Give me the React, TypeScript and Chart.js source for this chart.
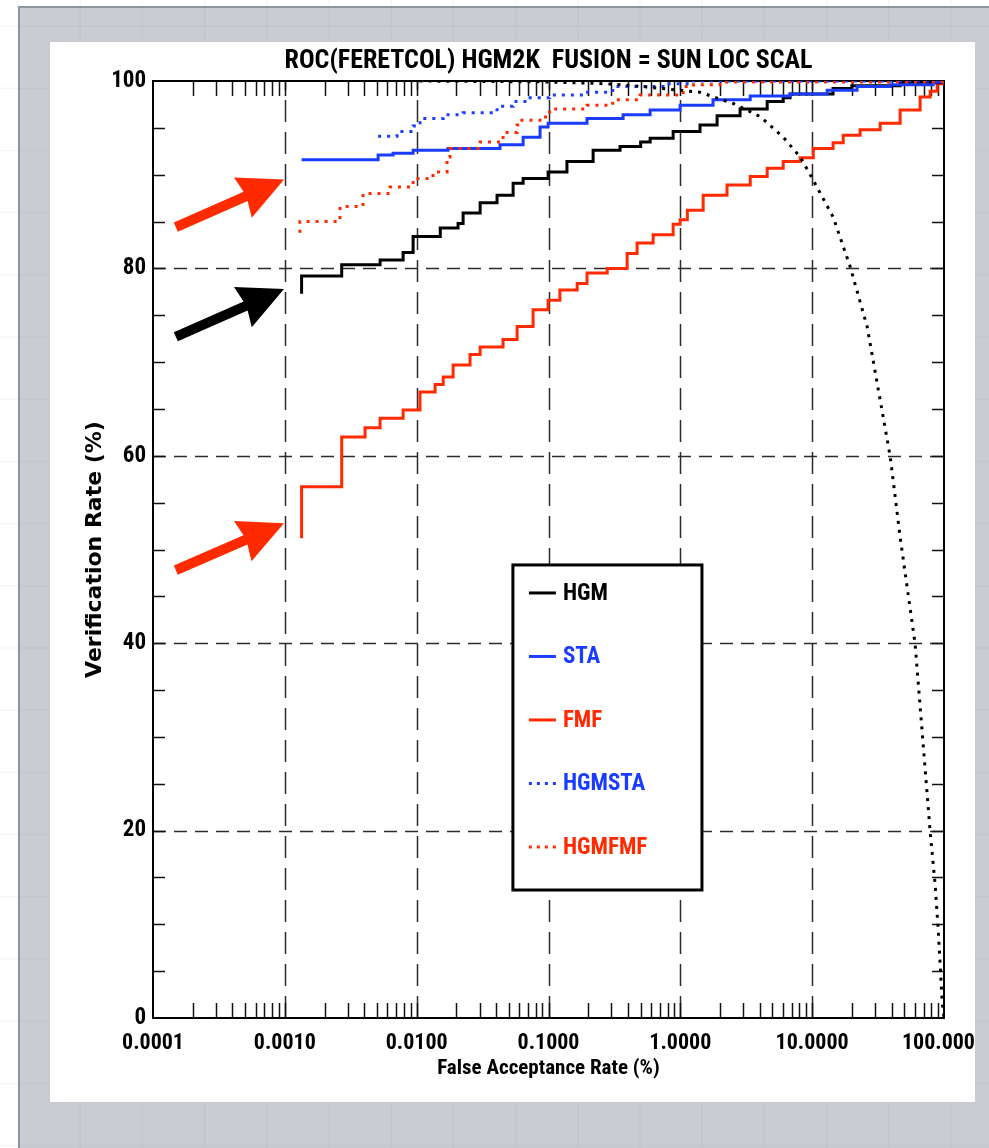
import { useEffect, useRef } from 'react';
import { Chart, registerables } from 'chart.js';

Chart.register(...registerables);

const W = 989;
const H = 1148;
const FONT = '"Roboto Condensed", "DejaVu Sans Condensed", sans-serif';

const TITLE = 'ROC(FERETCOL) HGM2K  FUSION = SUN LOC SCAL';
const X_TITLE = 'False Acceptance Rate (%)';
const Y_TITLE = 'Verification Rate (%)';

const xTickValues = [0.0001, 0.001, 0.01, 0.1, 1, 10, 100];
const xTickLabels = ['0.0001', '0.0010', '0.0100', '0.1000', '1.0000', '10.0000', '100.0000'];
const xGridValues = [0.001, 0.01, 0.1, 1, 10];
const xDecades = [0.0001, 0.001, 0.01, 0.1, 1, 10];
const xMinorMultipliers = [1, 2, 3, 4, 5, 6, 7, 8, 9];
const yTickValues = [0, 20, 40, 60, 80, 100];
const yGridValues = [20, 40, 60, 80];
const yMinorTicks = [5, 10, 15, 20, 25, 30, 35, 40, 45, 50, 55, 60, 65, 70, 75, 80, 85, 90, 95];

// HGM (black solid)
const hgmFar = [0.00134, 0.00134, 0.0027, 0.00528, 0.00789, 0.0094, 0.0151, 0.0206, 0.0225, 0.0303, 0.0407, 0.0539, 0.0642, 0.0993, 0.138, 0.218, 0.349, 0.5, 0.59, 0.882, 1.41, 1.9, 2.84, 4.56, 6.03, 6.8, 14.4, 20, 46.5, 100];
const hgmRate = [77.3, 79.2, 80.4, 80.9, 81.7, 83.4, 84.3, 84.8, 85.9, 87.0, 87.8, 89.1, 89.6, 90.3, 91.4, 92.6, 93.0, 93.5, 93.9, 94.6, 95.3, 96.3, 97.0, 97.8, 98.2, 98.6, 99.2, 99.5, 99.8, 100];

// STA (blue solid)
const staFar = [0.00134, 0.0051, 0.00662, 0.0094, 0.0173, 0.0429, 0.0642, 0.0863, 0.0993, 0.196, 0.368, 0.59, 0.996, 1.77, 3.39, 6.8, 13.0, 21.9, 39.1, 82.8, 100];
const staRate = [91.6, 92.1, 92.3, 92.6, 92.8, 93.2, 94.0, 95.1, 95.5, 96.0, 96.4, 96.9, 97.4, 98.0, 98.4, 98.6, 99.0, 99.4, 99.6, 99.9, 100];

// FMF (red solid)
const fmfFar = [0.00134, 0.00134, 0.0027, 0.00406, 0.00528, 0.00789, 0.0106, 0.0138, 0.0159, 0.0189, 0.0254, 0.0303, 0.0452, 0.0578, 0.0764, 0.0993, 0.122, 0.165, 0.196, 0.279, 0.395, 0.47, 0.622, 0.882, 0.996, 1.13, 1.49, 2.26, 3.39, 4.56, 6.03, 8.11, 10.2, 14.4, 17.2, 23.1, 32.8, 46.5, 65.9, 78.5, 88.8, 100];
const fmfRate = [51.2, 56.7, 62.0, 63.0, 64.0, 64.9, 66.8, 67.6, 68.4, 69.7, 70.8, 71.6, 72.4, 73.8, 75.6, 76.6, 77.7, 78.4, 79.5, 80.0, 81.6, 82.7, 83.6, 84.7, 85.2, 86.2, 87.8, 88.9, 89.8, 90.7, 91.4, 91.8, 92.8, 93.4, 94.2, 94.8, 95.5, 96.9, 98.3, 98.9, 99.7, 100];

// HGMSTA (blue dotted)
const hgmstaFar = [0.0051, 0.0071, 0.0094, 0.0106, 0.0159, 0.0225, 0.0407, 0.0539, 0.0725, 0.102, 0.183, 0.307, 0.794, 1.19, 100];
const hgmstaRate = [94.1, 94.6, 95.2, 96.0, 96.4, 96.6, 97.3, 97.8, 98.2, 98.5, 98.8, 99.4, 99.7, 100, 100];

// HGMFMF (red dotted)
const hgmfmfFar = [0.0013, 0.0013, 0.00262, 0.00392, 0.00628, 0.0094, 0.0133, 0.017, 0.0179, 0.0303, 0.0452, 0.0578, 0.0609, 0.095, 0.102, 0.196, 0.307, 0.495, 1.05, 1.26, 2.0, 100];
const hgmfmfRate = [83.8, 85.0, 86.6, 88.0, 88.7, 89.6, 90.3, 91.9, 92.8, 93.5, 94.5, 95.3, 95.8, 96.5, 97.0, 97.4, 98.0, 98.5, 99.4, 99.6, 99.9, 100];

// HGM dotted black curve (no legend entry)
const hgmCurveFar = [0.0105, 0.1, 0.28, 0.44, 1.41, 2.52, 4.03, 6.03, 8.11, 10.2, 14.4, 19.4, 26.1, 39.1, 46.5, 60.4, 78.5, 85.8, 90.4, 96.9, 100];
const hgmCurveRate = [100, 99.9, 99.7, 99.5, 98.8, 97.6, 96.2, 94.0, 91.9, 89.4, 85.5, 80.2, 73.8, 59.9, 51.3, 39.9, 19.9, 14.1, 9.4, 1.7, 0];

// Annotation arrows (data coordinates)
const arrowTailFar = [0.000149, 0.000149, 0.000149];
const arrowTailRate = [84.4, 72.7, 47.8];
const arrowTipFar = [0.000986, 0.000986, 0.000986];
const arrowTipRate = [89.5, 77.8, 52.8];
const arrowColors = ['#ff2a00', '#000000', '#ff2a00'];

const BLACK = '#000000';
const BLUE = '#1a3cff';
const RED = '#ff2a00';

const legendLabels = ['HGM', 'STA', 'FMF', 'HGMSTA', 'HGMFMF'];
const legendColors = [BLACK, BLUE, RED, BLUE, RED];
const legendDotted = [false, false, false, true, true];

const pts = (xs: number[], ys: number[]) => xs.map((x, i) => ({ x, y: ys[i] }));

function paintGray(ctx: CanvasRenderingContext2D) {
  ctx.fillStyle = '#c9cdd1';
  ctx.fillRect(19, 7, W - 19, H - 7);
}
function paintFaintLines(ctx: CanvasRenderingContext2D) {
  ctx.strokeStyle = 'rgba(60,70,80,0.05)';
  ctx.lineWidth = 1.5;
  ctx.beginPath();
  for (let gx = 18; gx < W; gx += 62.2) {
    ctx.moveTo(gx, 0);
    ctx.lineTo(gx, H);
  }
  for (let gy = 26; gy < H; gy += 62.2) {
    ctx.moveTo(0, gy);
    ctx.lineTo(W, gy);
  }
  ctx.stroke();
}
function paintBorder(ctx: CanvasRenderingContext2D) {
  ctx.fillStyle = '#8f969c';
  ctx.fillRect(18, 6, 2, H - 6);
  ctx.fillRect(18, 6, W - 18, 2);
}

const backdrop = {
  id: 'backdrop',
  beforeDraw(chart: any) {
    const ctx = chart.ctx as CanvasRenderingContext2D;
    ctx.save();
    ctx.fillStyle = '#ffffff';
    ctx.fillRect(0, 0, W, H);
    paintGray(ctx);
    paintFaintLines(ctx);
    paintBorder(ctx);
    ctx.fillStyle = '#ffffff';
    ctx.fillRect(50, 42, 925, 1060);
    ctx.restore();
  },
  afterDraw(chart: any) {
    const ctx = chart.ctx as CanvasRenderingContext2D;
    ctx.save();
    ctx.beginPath();
    ctx.rect(975, 42, W - 975, 1060);
    ctx.clip();
    paintGray(ctx);
    paintFaintLines(ctx);
    ctx.restore();
  },
};

const frame = {
  id: 'idlFrame',
  beforeDatasetsDraw(chart: any) {
    const ctx = chart.ctx as CanvasRenderingContext2D;
    const a = chart.chartArea;
    const x = chart.scales.x;
    const y = chart.scales.y;
    ctx.save();
    ctx.strokeStyle = '#2b2b2b';
    ctx.lineWidth = 1.5;
    ctx.setLineDash([22, 10]);
    ctx.beginPath();
    xGridValues.forEach((v) => {
      const px = Math.round(x.getPixelForValue(v)) + 0.5;
      ctx.moveTo(px, a.bottom);
      ctx.lineTo(px, a.top);
    });
    ctx.stroke();
    ctx.setLineDash([13, 8]);
    ctx.beginPath();
    yGridValues.forEach((v) => {
      const py = Math.round(y.getPixelForValue(v)) + 0.5;
      ctx.moveTo(a.left, py);
      ctx.lineTo(a.right, py);
    });
    ctx.stroke();
    ctx.setLineDash([]);
    ctx.strokeStyle = '#111';
    ctx.lineWidth = 1.5;
    ctx.beginPath();
    xDecades.forEach((d) => {
      xMinorMultipliers.forEach((m) => {
        const v = d * m;
        if (v <= 0.0001 || v >= 100) return;
        const px = Math.round(x.getPixelForValue(v)) + 0.5;
        ctx.moveTo(px, a.bottom);
        ctx.lineTo(px, a.bottom - 15);
        ctx.moveTo(px, a.top);
        ctx.lineTo(px, a.top + 15);
      });
    });
    yMinorTicks.forEach((v) => {
      const py = Math.round(y.getPixelForValue(v)) + 0.5;
      ctx.moveTo(a.left, py);
      ctx.lineTo(a.left + 12, py);
      ctx.moveTo(a.right, py);
      ctx.lineTo(a.right - 12, py);
    });
    ctx.stroke();
    ctx.strokeStyle = '#000';
    ctx.lineWidth = 2;
    ctx.strokeRect(a.left, a.top, a.right - a.left, a.bottom - a.top);
    ctx.restore();
  },
};

const overlay = {
  id: 'overlay',
  afterDatasetsDraw(chart: any) {
    const ctx = chart.ctx as CanvasRenderingContext2D;
    const a = chart.chartArea;
    const x = chart.scales.x;
    const y = chart.scales.y;
    const aw = a.right - a.left;
    const ah = a.bottom - a.top;
    // legend box
    const bl = a.left + 0.455 * aw;
    const br = a.left + 0.694 * aw;
    const bt = a.top + 0.5165 * ah;
    const bb = a.top + 0.8634 * ah;
    ctx.save();
    ctx.fillStyle = '#fff';
    ctx.fillRect(bl, bt, br - bl, bb - bt);
    ctx.strokeStyle = '#000';
    ctx.lineWidth = 3;
    ctx.strokeRect(bl, bt, br - bl, bb - bt);
    ctx.font = `bold 23px ${FONT}`;
    ctx.textBaseline = 'middle';
    ctx.textAlign = 'left';
    legendLabels.forEach((lab, i) => {
      const ry = bt + 28 + i * 63.5;
      ctx.strokeStyle = legendColors[i];
      ctx.lineWidth = 3;
      ctx.setLineDash(legendDotted[i] ? [3, 5] : []);
      ctx.beginPath();
      ctx.moveTo(bl + 16, ry);
      ctx.lineTo(bl + 43, ry);
      ctx.stroke();
      ctx.setLineDash([]);
      ctx.fillStyle = legendColors[i];
      ctx.fillText(lab, bl + 50, ry + 1);
    });
    // arrows
    arrowTipFar.forEach((_, i) => {
      const x0 = x.getPixelForValue(arrowTailFar[i]);
      const y0 = y.getPixelForValue(arrowTailRate[i]);
      const x1 = x.getPixelForValue(arrowTipFar[i]);
      const y1 = y.getPixelForValue(arrowTipRate[i]);
      const ang = Math.atan2(y1 - y0, x1 - x0);
      const len = Math.hypot(x1 - x0, y1 - y0);
      ctx.save();
      ctx.translate(x0, y0);
      ctx.rotate(ang);
      ctx.fillStyle = arrowColors[i];
      ctx.beginPath();
      ctx.moveTo(0, -5);
      ctx.lineTo(len - 42, -5);
      ctx.lineTo(len - 45, -22);
      ctx.lineTo(len, 0);
      ctx.lineTo(len - 45, 22);
      ctx.lineTo(len - 42, 5);
      ctx.lineTo(0, 5);
      ctx.closePath();
      ctx.fill();
      ctx.restore();
    });
    ctx.restore();
  },
};

export default function App() {
  const ref = useRef<HTMLCanvasElement | null>(null);
  useEffect(() => {
    if (!ref.current) return;
    const solid = { borderWidth: 3, pointRadius: 0, stepped: 'before' as const, fill: false };
    const chart = new Chart(ref.current, {
      type: 'line',
      data: {
        datasets: [
          { label: 'HGM curve', data: pts(hgmCurveFar, hgmCurveRate), borderColor: BLACK, borderWidth: 3, borderDash: [3, 6], pointRadius: 0, tension: 0, order: 0 },
          { label: 'HGMSTA', data: pts(hgmstaFar, hgmstaRate), borderColor: BLUE, ...solid, borderDash: [3, 6], order: 1 },
          { label: 'HGMFMF', data: pts(hgmfmfFar, hgmfmfRate), borderColor: RED, ...solid, borderDash: [3, 6], order: 2 },
          { label: 'STA', data: pts(staFar, staRate), borderColor: BLUE, ...solid, order: 3 },
          { label: 'HGM', data: pts(hgmFar, hgmRate), borderColor: BLACK, ...solid, order: 4 },
          { label: 'FMF', data: pts(fmfFar, fmfRate), borderColor: RED, ...solid, order: 5 },
        ],
      },
      options: {
        animation: false,
        responsive: false,
        maintainAspectRatio: false,
        devicePixelRatio: 1,
        events: [],
        layout: { padding: { left: 0, right: 45, top: 47, bottom: 0 } },
        plugins: {
          legend: { display: false },
          tooltip: { enabled: false },
          title: {
            display: true,
            text: TITLE,
            fullSize: false,
            color: '#000',
            font: { family: FONT, size: 26, weight: 'bold', lineHeight: 1 },
            padding: { top: 1, bottom: 7 },
          },
        },
        scales: {
          x: {
            type: 'logarithmic',
            min: 0.0001,
            max: 100,
            grid: { display: false, drawTicks: false },
            border: { display: false },
            ticks: {
              autoSkip: false,
              maxRotation: 0,
              minRotation: 0,
              padding: 12,
              color: '#000',
              font: { family: FONT, size: 22, weight: 'bold', lineHeight: 1.2 },
              callback: (_v: any, i: number) => xTickLabels[i],
            },
            afterBuildTicks: (s: any) => {
              s.ticks = xTickValues.map((v) => ({ value: v }));
            },
            afterFit: (s: any) => {
              s.height = 130;
              s.paddingLeft = 0;
              s.paddingRight = 0;
            },
            title: {
              display: true,
              text: X_TITLE,
              color: '#000',
              font: { family: FONT, size: 21, weight: 'bold', lineHeight: 1 },
              padding: { top: 0, bottom: 69 },
            },
          },
          y: {
            type: 'linear',
            min: 0,
            max: 100,
            grid: { display: false, drawTicks: false },
            border: { display: false },
            ticks: {
              padding: 7,
              color: '#000',
              font: { family: FONT, size: 23, weight: 'bold', lineHeight: 1.2 },
              callback: (v: any) => String(v),
            },
            afterBuildTicks: (s: any) => {
              s.ticks = yTickValues.map((v) => ({ value: v }));
            },
            afterFit: (s: any) => {
              s.width = 153;
              s.paddingTop = 0;
              s.paddingBottom = 0;
            },
            title: {
              display: true,
              text: Y_TITLE,
              color: '#000',
              font: { family: '"DejaVu Sans", sans-serif', size: 22, weight: 'bold', lineHeight: 1 },
              padding: { top: 84, bottom: 0 },
            },
          },
        },
      },
      plugins: [backdrop, frame, overlay],
    });
    return () => chart.destroy();
  }, []);
  return (
    <div style={{ position: 'absolute', left: 0, top: 0, width: W, height: H }}>
      <canvas ref={ref} width={W} height={H} style={{ display: 'block', width: W, height: H }} />
    </div>
  );
}
